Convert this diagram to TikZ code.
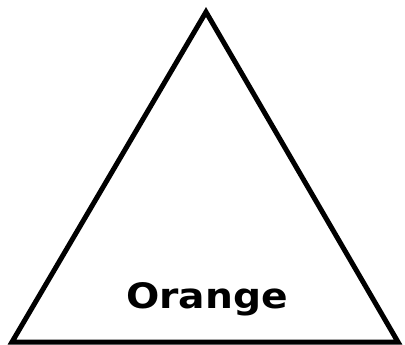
\documentclass[tikz,border=0pt]{standalone}
\usepackage{fontspec}
\newfontfamily\labelfont{DejaVu Sans}
\usetikzlibrary{positioning}

\begin{document}
\begin{tikzpicture}[x=1pt, y=-1pt, line join=miter]
  \useasboundingbox (0,0) rectangle (405,345);
  % Triangle
  \coordinate (apex) at (206,12);
  \coordinate (left) at (12,342);
  \coordinate (right) at (398,342);
  \draw[line width=5pt] (apex) -- (left) -- (right) -- cycle;

  % Label
  \node[anchor=base, inner sep=0pt, font=\labelfont\bfseries\fontsize{35}{38}\selectfont, xscale=1.12] (label) at (207,308) {Orange};
\end{tikzpicture}
\end{document}
